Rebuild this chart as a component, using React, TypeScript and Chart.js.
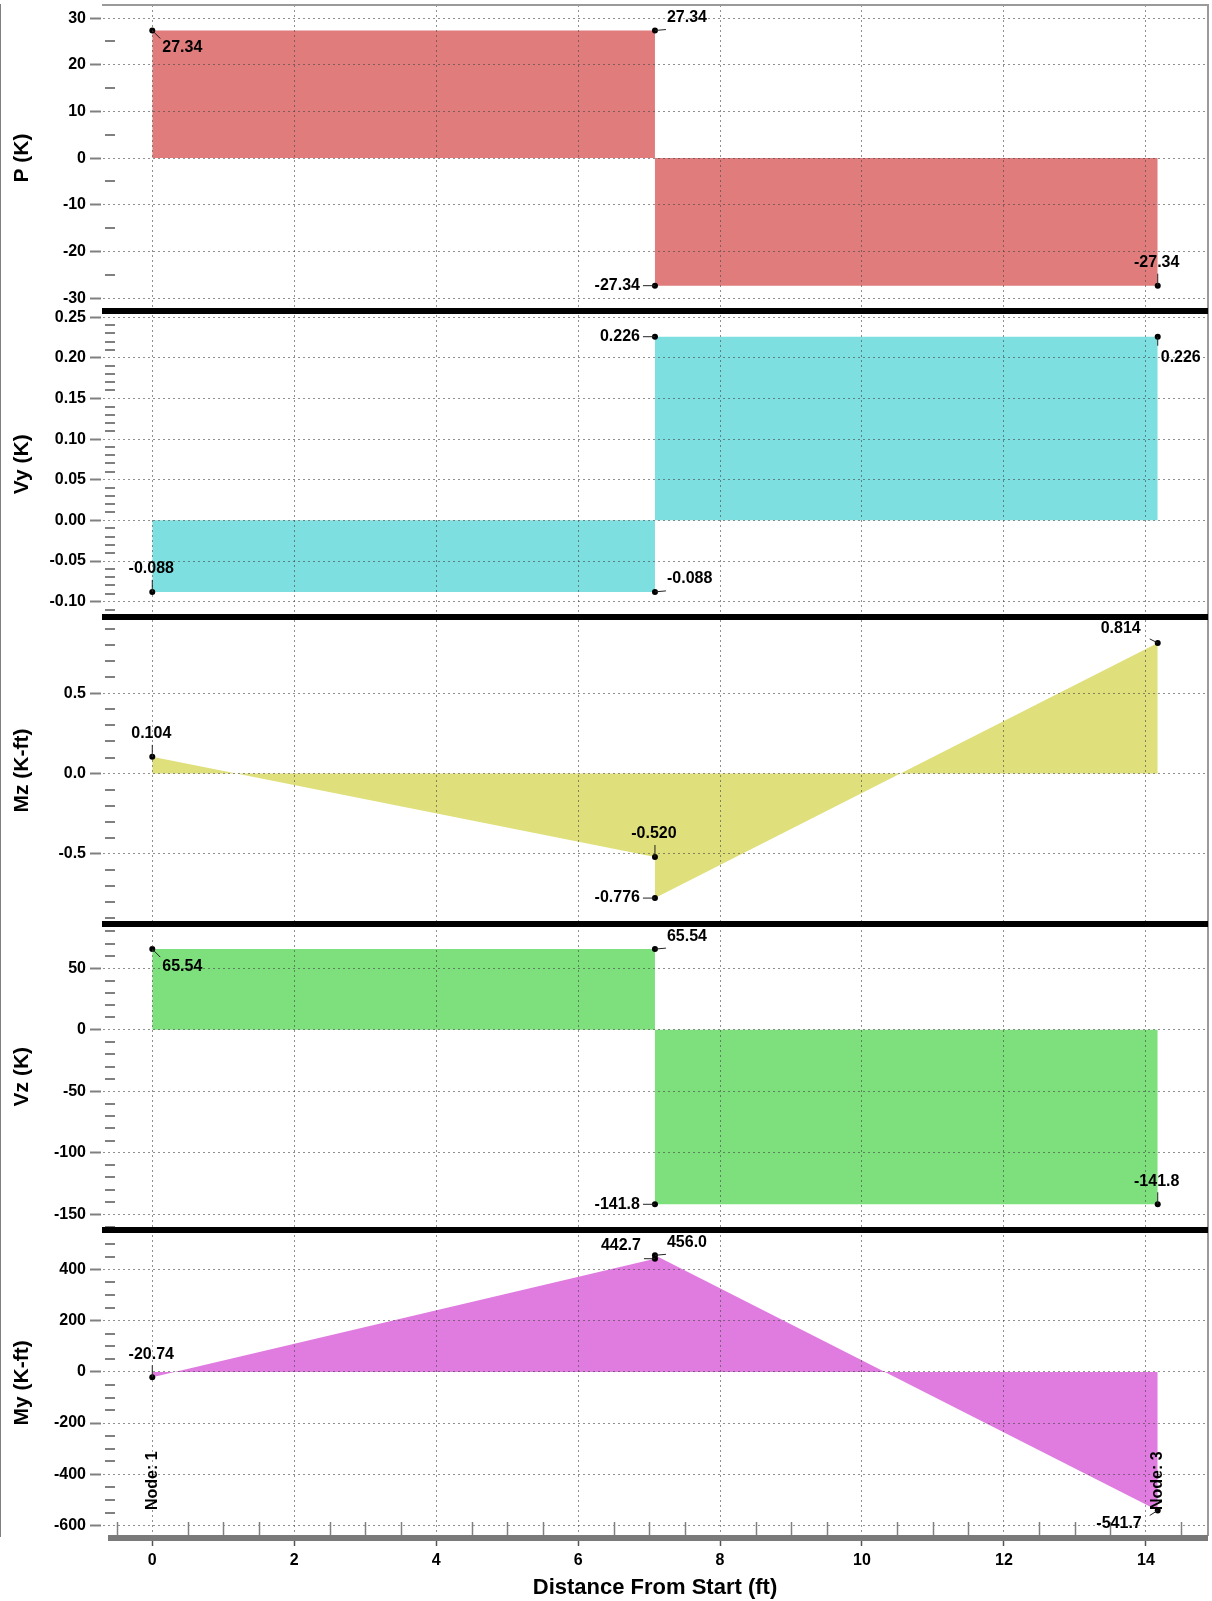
import React, { useEffect, useRef } from "react";
import { Chart, registerables } from "chart.js";

Chart.register(...registerables);

// Stations along the member (ft); the middle station is listed twice for the jump
const stations = [0, 7.083, 7.083, 14.167];

// Internal force / moment values at each station
const axialP = [27.34, 27.34, -27.34, -27.34];
const shearVy = [-0.088, -0.088, 0.226, 0.226];
const momentMz = [0.104, -0.52, -0.776, 0.814];
const shearVz = [65.54, 65.54, -141.8, -141.8];
const momentMy = [-20.74, 442.7, 456.0, -541.7];

const panelValues = [axialP, shearVy, momentMz, shearVz, momentMy];
const panelTitles = ["P (K)", "Vy (K)", "Mz (K-ft)", "Vz (K)", "My (K-ft)"];
const majorSteps = [10, 0.05, 0.5, 50, 200];
const minorSteps = [5, 0.01, 0.1, 10, 50];
const tickDecimals = [0, 2, 1, 0, 0];
const fillColors = ["#e07c7c", "#7ddfe0", "#dfe07c", "#7de07d", "#e07ce0"];

const xMajorStep = 2;
const xMinorStep = 0.5;
const xTitle = "Distance From Start (ft)";
const nodeNames = ["Node: 1", "Node: 3"];

const FONT = '"Liberation Sans", Arial, Helvetica, sans-serif';
const GRID = "rgba(70,70,70,0.6)";
const AXIS_GRAY = "#808080";

// Label anchor relative to its point: [dx, dy, textAlign, leaderDx, leaderDy]
type Placement = [number, number, CanvasTextAlign, number, number];
const SE: Placement = [10, 17, "left", 8, 8];
const SE_LOW: Placement = [3, 21, "left", 0, 9];
const NE: Placement = [12, -13, "left", 11, -1];
const W: Placement = [-15, 0, "right", -12, 0];
const N: Placement = [-1, -23, "center", 0, -12];
const NW: Placement = [-14, -13, "right", -11, 0];
const NW_DIAG: Placement = [-17, -14, "right", -8, -4];
const SW: Placement = [-16, 13, "right", -8, 5];
const labelPlacements: Placement[][] = [
  [SE, NE, W, N],
  [N, NE, W, SE_LOW],
  [N, N, W, NW_DIAG],
  [SE, NE, W, N],
  [N, NW, NE, SW],
];

const formatValue = (v: number) =>
  Math.abs(v) < 1 ? v.toFixed(3) : v.toPrecision(4);

const padRange = (vals: number[], frac: number): [number, number] => {
  const lo = Math.min(...vals);
  const hi = Math.max(...vals);
  const pad = (hi - lo) * frac;
  return [lo - pad, hi + pad];
};

// multiples of step that fall inside [min, max]
const multiplesWithin = (min: number, max: number, step: number) => {
  const out: number[] = [];
  for (let k = Math.ceil(min / step - 1e-6); k * step <= max + 1e-9; k++) {
    const v = Math.round(k * step * 1e6) / 1e6;
    out.push(v);
  }
  return out;
};

const isMultiple = (v: number, step: number) => {
  const q = v / step;
  return Math.abs(q - Math.round(q)) < 1e-6;
};

const decorations = {
  id: "diagramDecorations",
  afterDraw(chart: any) {
    const { ctx, chartArea: area } = chart;
    const xs = chart.scales.x;
    ctx.save();

    // minor ticks inside the left axis of every panel
    ctx.strokeStyle = AXIS_GRAY;
    ctx.lineWidth = 2;
    panelValues.forEach((_, i) => {
      const s = chart.scales[`y${i}`];
      multiplesWithin(s.min, s.max, minorSteps[i]).forEach((v) => {
        if (isMultiple(v, majorSteps[i])) return;
        const py = Math.round(s.getPixelForValue(v));
        ctx.beginPath();
        ctx.moveTo(area.left + 3, py);
        ctx.lineTo(area.left + 13, py);
        ctx.stroke();
      });
    });

    // minor ticks along the distance axis
    ctx.lineWidth = 1.5;
    multiplesWithin(xs.min, xs.max, xMinorStep).forEach((v) => {
      if (isMultiple(v, xMajorStep)) return;
      const px = Math.round(xs.getPixelForValue(v)) + 0.5;
      ctx.beginPath();
      ctx.moveTo(px, area.bottom);
      ctx.lineTo(px, area.bottom - 14);
      ctx.stroke();
    });

    // top and right frame
    ctx.strokeStyle = "#9a9a9a";
    ctx.lineWidth = 2;
    ctx.beginPath();
    ctx.moveTo(area.left, area.top);
    ctx.lineTo(area.right, area.top);
    ctx.lineTo(area.right, area.bottom);
    ctx.stroke();

    // distance axis bar
    ctx.fillStyle = "#7a7a7a";
    ctx.fillRect(area.left + 6, area.bottom - 1, area.right - area.left - 6, 6);

    // heavy separators between panels
    ctx.fillStyle = "#000";
    for (let i = 0; i < panelValues.length - 1; i++) {
      const s = chart.scales[`y${i}`];
      ctx.fillRect(area.left, Math.round(s.bottom) - 3, area.right - area.left, 6);
    }

    // value labels with leader lines
    ctx.font = `bold 16px ${FONT}`;
    ctx.textBaseline = "middle";
    ctx.fillStyle = "#000";
    ctx.strokeStyle = "#222";
    ctx.lineWidth = 1;
    panelValues.forEach((vals, i) => {
      const meta = chart.getDatasetMeta(2 * i + 1);
      meta.data.forEach((pt: any, k: number) => {
        const [dx, dy, align, lx, ly] = labelPlacements[i][k];
        ctx.beginPath();
        ctx.moveTo(pt.x, pt.y);
        ctx.lineTo(pt.x + lx, pt.y + ly);
        ctx.stroke();
        ctx.textAlign = align;
        ctx.fillText(formatValue(vals[k]), pt.x + dx, pt.y + dy);
      });
    });

    // node names at the member ends
    [stations[0], stations[stations.length - 1]].forEach((st, j) => {
      const px = xs.getPixelForValue(st);
      ctx.save();
      ctx.translate(px, area.bottom - 26);
      ctx.rotate(-Math.PI / 2);
      ctx.textAlign = "left";
      ctx.textBaseline = "middle";
      ctx.fillText(nodeNames[j], 0, 0);
      ctx.restore();
    });

    ctx.restore();
  },
};

export default function App() {
  const canvasRef = useRef<HTMLCanvasElement | null>(null);

  useEffect(() => {
    const canvas = canvasRef.current;
    if (!canvas) return;

    const tickFont = { family: FONT, size: 16, weight: "bold" as const };
    const titleFont = { family: FONT, size: 21, weight: "bold" as const };
    const xTitleFont = { family: FONT, size: 22, weight: "bold" as const };
    const xRange = padRange(stations, 0.05);

    const scales: any = {
      x: {
        type: "linear",
        min: xRange[0],
        max: xRange[1],
        afterFit: (s: any) => {
          s.height = 65;
          s.paddingLeft = 0;
          s.paddingRight = 0;
        },
        afterBuildTicks: (s: any) => {
          s.ticks = multiplesWithin(s.min, s.max, xMajorStep).map((value) => ({ value }));
        },
        ticks: {
          autoSkip: false,
          maxRotation: 0,
          padding: 5,
          color: "#000",
          font: tickFont,
          callback: (v: any) => String(Math.round(Number(v) * 100) / 100),
        },
        grid: {
          color: GRID,
          lineWidth: 1,
          z: 1,
          drawTicks: true,
          tickLength: 10,
          tickColor: "#555",
          tickWidth: 1.5,
          tickBorderDash: [],
        },
        border: { display: false, dash: [2, 3] },
        title: {
          display: true,
          text: xTitle,
          color: "#000",
          font: xTitleFont,
          padding: { top: 0, bottom: 0 },
        },
      },
    };

    // bottom panel first so that the first panel ends up on top of the stack
    for (let i = panelValues.length - 1; i >= 0; i--) {
      const [lo, hi] = padRange(panelValues[i], 0.1);
      const decimals = tickDecimals[i];
      const step = majorSteps[i];
      scales[`y${i}`] = {
        type: "linear",
        position: "left",
        stack: "panels",
        stackWeight: 1,
        min: lo,
        max: hi,
        afterFit: (s: any) => {
          s.width = 102;
          s.paddingTop = 0;
          s.paddingBottom = 0;
        },
        afterBuildTicks: (s: any) => {
          s.ticks = multiplesWithin(s.min, s.max, step).map((value) => ({ value }));
        },
        ticks: {
          autoSkip: false,
          padding: 4,
          color: "#000",
          font: tickFont,
          callback: (v: any) => {
            const n = Math.abs(Number(v)) < 1e-9 ? 0 : Number(v);
            return n.toFixed(decimals);
          },
        },
        grid: {
          color: GRID,
          lineWidth: 1,
          z: 1,
          tickLength: 12,
          tickColor: AXIS_GRAY,
          tickWidth: 2,
          tickBorderDash: [],
        },
        border: { display: true, color: AXIS_GRAY, width: 2, dash: [2, 3] },
        title: {
          display: true,
          text: panelTitles[i],
          color: "#000",
          font: titleFont,
          padding: { top: 10, bottom: 0 },
        },
      };
    }

    const datasets: any[] = [];
    panelValues.forEach((vals, i) => {
      const pts = stations.map((x, k) => ({ x, y: vals[k] }));
      datasets.push({
        type: "line",
        data: pts,
        xAxisID: "x",
        yAxisID: `y${i}`,
        fill: "origin",
        backgroundColor: fillColors[i],
        borderColor: "rgba(0,0,0,0)",
        borderWidth: 0,
        pointRadius: 0,
        tension: 0,
        order: 2,
      });
      datasets.push({
        type: "line",
        data: pts,
        xAxisID: "x",
        yAxisID: `y${i}`,
        showLine: false,
        fill: false,
        pointRadius: 3,
        pointBackgroundColor: "#000",
        pointBorderColor: "#000",
        pointBorderWidth: 0,
        order: 1,
      });
    });

    const chart = new Chart(canvas, {
      type: "line",
      data: { datasets },
      options: {
        animation: false,
        responsive: false,
        devicePixelRatio: 1,
        events: [],
        layout: { padding: { left: 0, right: 3, top: 5, bottom: 0 } },
        plugins: {
          legend: { display: false },
          tooltip: { enabled: false },
        },
        scales,
      },
      plugins: [decorations],
    } as any);

    return () => chart.destroy();
  }, []);

  return (
    <div
      style={{
        position: "absolute",
        left: 0,
        top: 0,
        width: 1212,
        height: 1601,
        background: "#fff",
      }}
    >
      <canvas
        ref={canvasRef}
        width={1212}
        height={1601}
        style={{ display: "block", width: 1212, height: 1601 }}
      />
    </div>
  );
}
